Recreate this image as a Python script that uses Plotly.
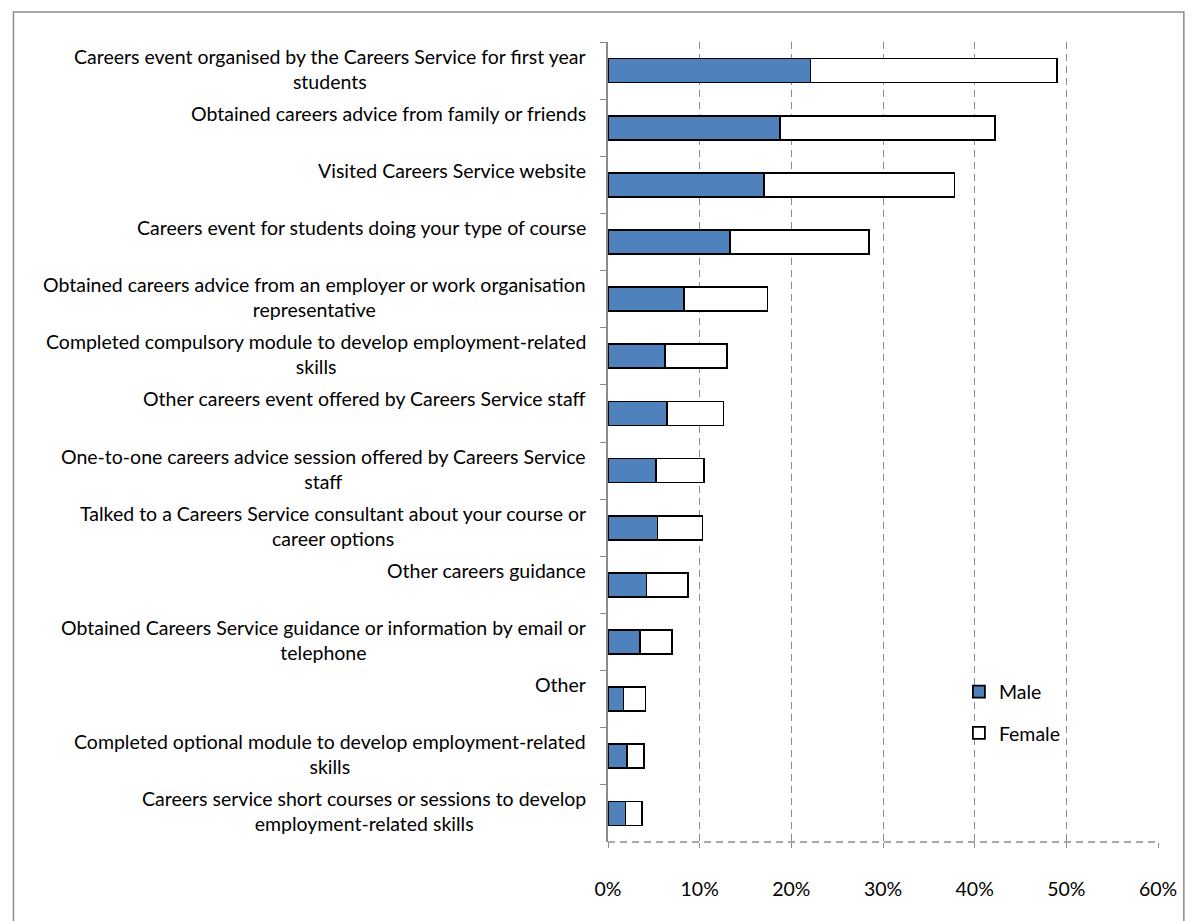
import plotly.graph_objects as go

# categories top to bottom, values in percent
categories = [
    'Careers event organised by the Careers Service for first year<br>students',
    'Obtained careers advice from family or friends',
    'Visited Careers Service website',
    'Careers event for students doing your type of course',
    'Obtained careers advice from an employer or work organisation<br>representative',
    'Completed compulsory module to develop employment-related<br>skills',
    'Other careers event offered by Careers Service staff',
    'One-to-one careers advice session offered by Careers Service<br>staff',
    'Talked to a Careers Service consultant about your course or<br>career options',
    'Other careers guidance',
    'Obtained Careers Service guidance or information by email or<br>telephone',
    'Other',
    'Completed optional module to develop employment-related<br>skills',
    'Careers service short courses or sessions to develop<br>employment-related skills',
]
male = [22.1, 18.8, 17.0, 13.3, 8.3, 6.2, 6.4, 5.2, 5.4, 4.2, 3.5, 1.7, 2.1, 1.9]
female = [26.9, 23.4, 20.8, 15.2, 9.1, 6.8, 6.2, 5.3, 4.9, 4.5, 3.5, 2.4, 1.8, 1.8]
x_ticks = [0, 10, 20, 30, 40, 50, 60]
x_tick_labels = ['0%', '10%', '20%', '30%', '40%', '50%', '60%']

FONT = 'Lato'
FS = 19.5
GRID = '#8c8c8c'

fig = go.Figure()
fig.add_trace(go.Bar(y=categories, x=male, name='Male', orientation='h', legendgroup='m',
                     marker=dict(color='#4f81bd', line=dict(color='black', width=1.8))))
fig.add_trace(go.Bar(y=categories, x=female, name='Female', orientation='h', legendgroup='f',
                     marker=dict(color='white', line=dict(color='black', width=1.8))))

# category labels: right aligned block, lines centred, top aligned like Excel
for c in categories:
    fig.add_annotation(x=0, xref='paper', y=c, yref='y', text=c, showarrow=False,
                       xanchor='right', yanchor='top', align='center', xshift=-20, yshift=28,
                       font=dict(family=FONT, size=FS, color='black'))

# dashed bottom axis line and outer frame
fig.add_shape(type='line', xref='paper', yref='paper', x0=0, x1=1, y0=0, y1=0,
              line=dict(color=GRID, width=1.3, dash='7px,5px'))
fig.add_shape(type='rect', xref='paper', yref='paper', x0=-1.081, x1=1.047, y0=-0.3, y1=1.0375,
              line=dict(color='#8c8c8c', width=1.5), layer='below')

fig.update_layout(
    width=1181, height=913,
    margin=dict(l=600, r=27, t=34, b=79),
    barmode='stack', bargap=0.58,
    plot_bgcolor='white', paper_bgcolor='white',
    font=dict(family=FONT, size=FS, color='black'),
    showlegend=True,
    legend=dict(x=0.638, y=0.212, xanchor='left', yanchor='top', traceorder='grouped',
                tracegroupgap=13, font=dict(size=FS), bgcolor='rgba(0,0,0,0)'),
    xaxis=dict(range=[0, 60], tickvals=x_ticks, ticktext=x_tick_labels, showgrid=True,
               gridcolor=GRID, griddash='7px,5px', gridwidth=1.3, zeroline=False, showline=False,
               ticks='outside', ticklen=5, tickcolor=GRID, tickwidth=1.3, ticklabelstandoff=25),
    yaxis=dict(autorange='reversed', showticklabels=False, showgrid=False, showline=True,
               linecolor=GRID, linewidth=1.8, ticks='outside', ticklen=6, tickcolor=GRID,
               tickwidth=1.3, tickson='boundaries'),
)
fig.write_html('out.html')
